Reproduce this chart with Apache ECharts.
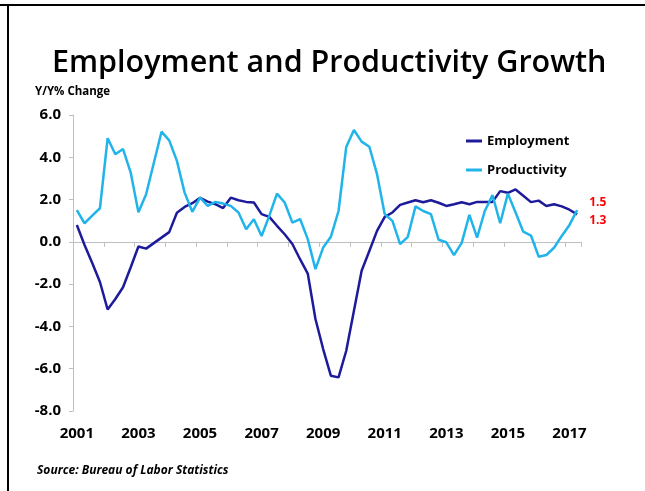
<!DOCTYPE html>
<html>
<head>
<meta charset="utf-8">
<script src="https://cdn.jsdelivr.net/npm/echarts@6/dist/echarts.min.js"></script>
<style>
html,body{margin:0;padding:0;background:#fff;}
#chart{width:645px;height:491px;}
</style>
</head>
<body>
<div id="chart"></div>
<script>
// Quarterly categories, 2001Q1 .. 2017Q2
var categories = [
'2001Q1','2001Q2','2001Q3','2001Q4','2002Q1','2002Q2','2002Q3','2002Q4',
'2003Q1','2003Q2','2003Q3','2003Q4','2004Q1','2004Q2','2004Q3','2004Q4',
'2005Q1','2005Q2','2005Q3','2005Q4','2006Q1','2006Q2','2006Q3','2006Q4',
'2007Q1','2007Q2','2007Q3','2007Q4','2008Q1','2008Q2','2008Q3','2008Q4',
'2009Q1','2009Q2','2009Q3','2009Q4','2010Q1','2010Q2','2010Q3','2010Q4',
'2011Q1','2011Q2','2011Q3','2011Q4','2012Q1','2012Q2','2012Q3','2012Q4',
'2013Q1','2013Q2','2013Q3','2013Q4','2014Q1','2014Q2','2014Q3','2014Q4',
'2015Q1','2015Q2','2015Q3','2015Q4','2016Q1','2016Q2','2016Q3','2016Q4',
'2017Q1','2017Q2'];

var employment = [
 0.8, -0.15, -1.0, -1.9, -3.2, -2.7, -2.15, -1.2,
 -0.22, -0.32, -0.06, 0.2, 0.46, 1.38, 1.65, 1.83,
 2.08, 1.9, 1.78, 1.6, 2.09, 1.97, 1.89, 1.86,
 1.31, 1.18, 0.76, 0.36, -0.1, -0.82, -1.5, -3.65,
 -5.07, -6.33, -6.41, -5.15, -3.26, -1.37, -0.43, 0.52,
 1.18, 1.39, 1.75, 1.86, 1.97, 1.87, 1.97, 1.85,
 1.7, 1.78, 1.87, 1.78, 1.89, 1.89, 1.89, 2.4,
 2.32, 2.48, 2.18, 1.88, 1.95, 1.7, 1.78, 1.68,
 1.52, 1.3];

var productivity = [
 1.5, 0.88, 1.24, 1.59, 4.9, 4.14, 4.39, 3.27,
 1.4, 2.25, 3.73, 5.21, 4.8, 3.83, 2.33, 1.42,
 2.09, 1.7, 1.89, 1.81, 1.7, 1.39, 0.6, 1.07,
 0.28, 1.23, 2.28, 1.86, 0.91, 1.08, 0.13, -1.29,
 -0.27, 0.24, 1.46, 4.49, 5.29, 4.74, 4.5, 3.2,
 1.31, 0.99, -0.11, 0.24, 1.68, 1.46, 1.31, 0.1,
 -0.02, -0.63, -0.05, 1.28, 0.2, 1.46, 2.21, 0.88,
 2.28, 1.39, 0.48, 0.3, -0.7, -0.62, -0.28, 0.28,
 0.8, 1.5];

var yTicks = [-8, -6, -4, -2, 0, 2, 4, 6];

var FONT = 'Open Sans';
var chart = echarts.init(document.getElementById('chart'), null, {renderer:'canvas'});
chart.setOption({
  animation: false,
  backgroundColor: '#ffffff',
  title: [
    {text: 'Employment and Productivity Growth', left: 52, top: 48, padding: 0,
     textStyle: {fontFamily: FONT, fontSize: 30.5, fontWeight: 600, color: '#000'}},
    {text: 'Y/Y% Change', left: 35, top: 86, padding: 0,
     textStyle: {fontFamily: FONT, fontSize: 11.5, fontWeight: 'bold', color: '#000'}},
    {text: 'Source: Bureau of Labor Statistics', left: 37, top: 465, padding: 0,
     textStyle: {fontFamily: FONT, fontSize: 12, fontWeight: 'bold', fontStyle: 'italic', color: '#000'}}
  ],
  graphic: [
    {type: 'rect', shape: {x: 0, y: 4, width: 645, height: 2}, style: {fill: '#000'}},
    {type: 'rect', shape: {x: 7, y: 4, width: 2, height: 487}, style: {fill: '#000'}}
  ],
  legend: {
    orient: 'vertical', left: 466, top: 133, padding: 0, itemGap: 13,
    icon: 'rect', itemWidth: 16, itemHeight: 3,
    textStyle: {fontFamily: FONT, fontSize: 13, fontWeight: 'bold', color: '#000', lineHeight: 16},
    data: ['Employment', 'Productivity']
  },
  grid: {left: 73, right: 64, top: 115, bottom: 80, containLabel: false},
  xAxis: [
    {type: 'category', data: categories, boundaryGap: true, position: 'bottom',
     axisLine: {show: false}, axisTick: {show: false}, splitLine: {show: false},
     axisLabel: {interval: 7, margin: 15, formatter: function (v) { return v.slice(0, 4); },
       fontFamily: FONT, fontSize: 15, fontWeight: 'bold', color: '#000'}},
    {type: 'category', data: categories, boundaryGap: true, position: 'bottom',
     axisLine: {show: true, onZero: true, onZeroAxisIndex: 0, lineStyle: {color: '#BFBFBF', width: 1}},
     axisTick: {show: true, interval: 3, length: 5, lineStyle: {color: '#BFBFBF'}},
     axisLabel: {show: false}, splitLine: {show: false}}
  ],
  yAxis: {
    type: 'value', min: yTicks[0], max: yTicks[yTicks.length - 1], interval: 2,
    axisLine: {show: true, lineStyle: {color: '#BFBFBF', width: 1}},
    axisTick: {show: true, length: 4, lineStyle: {color: '#BFBFBF'}},
    splitLine: {show: false},
    axisLabel: {margin: 12, formatter: function (v) { return v.toFixed(1); },
      fontFamily: FONT, fontSize: 15, fontWeight: 'bold', color: '#000'}
  },
  series: [
    {name: 'Employment', type: 'line', xAxisIndex: 0, data: employment, symbol: 'none',
     lineStyle: {color: '#1E1B9B', width: 2.5}, itemStyle: {color: '#1E1B9B'},
     endLabel: {show: true, offset: [4, 6], formatter: function (p) { return p.value.toFixed(1); },
       fontFamily: FONT, fontSize: 12, fontWeight: 'bold', color: '#FF0000'}},
    {name: 'Productivity', type: 'line', xAxisIndex: 0, data: productivity, symbol: 'none',
     lineStyle: {color: '#21B4EA', width: 2.5}, itemStyle: {color: '#21B4EA'},
     endLabel: {show: true, offset: [4, -7.5], formatter: function (p) { return p.value.toFixed(1); },
       fontFamily: FONT, fontSize: 12, fontWeight: 'bold', color: '#FF0000'}}
  ]
});
</script>
</body>
</html>
